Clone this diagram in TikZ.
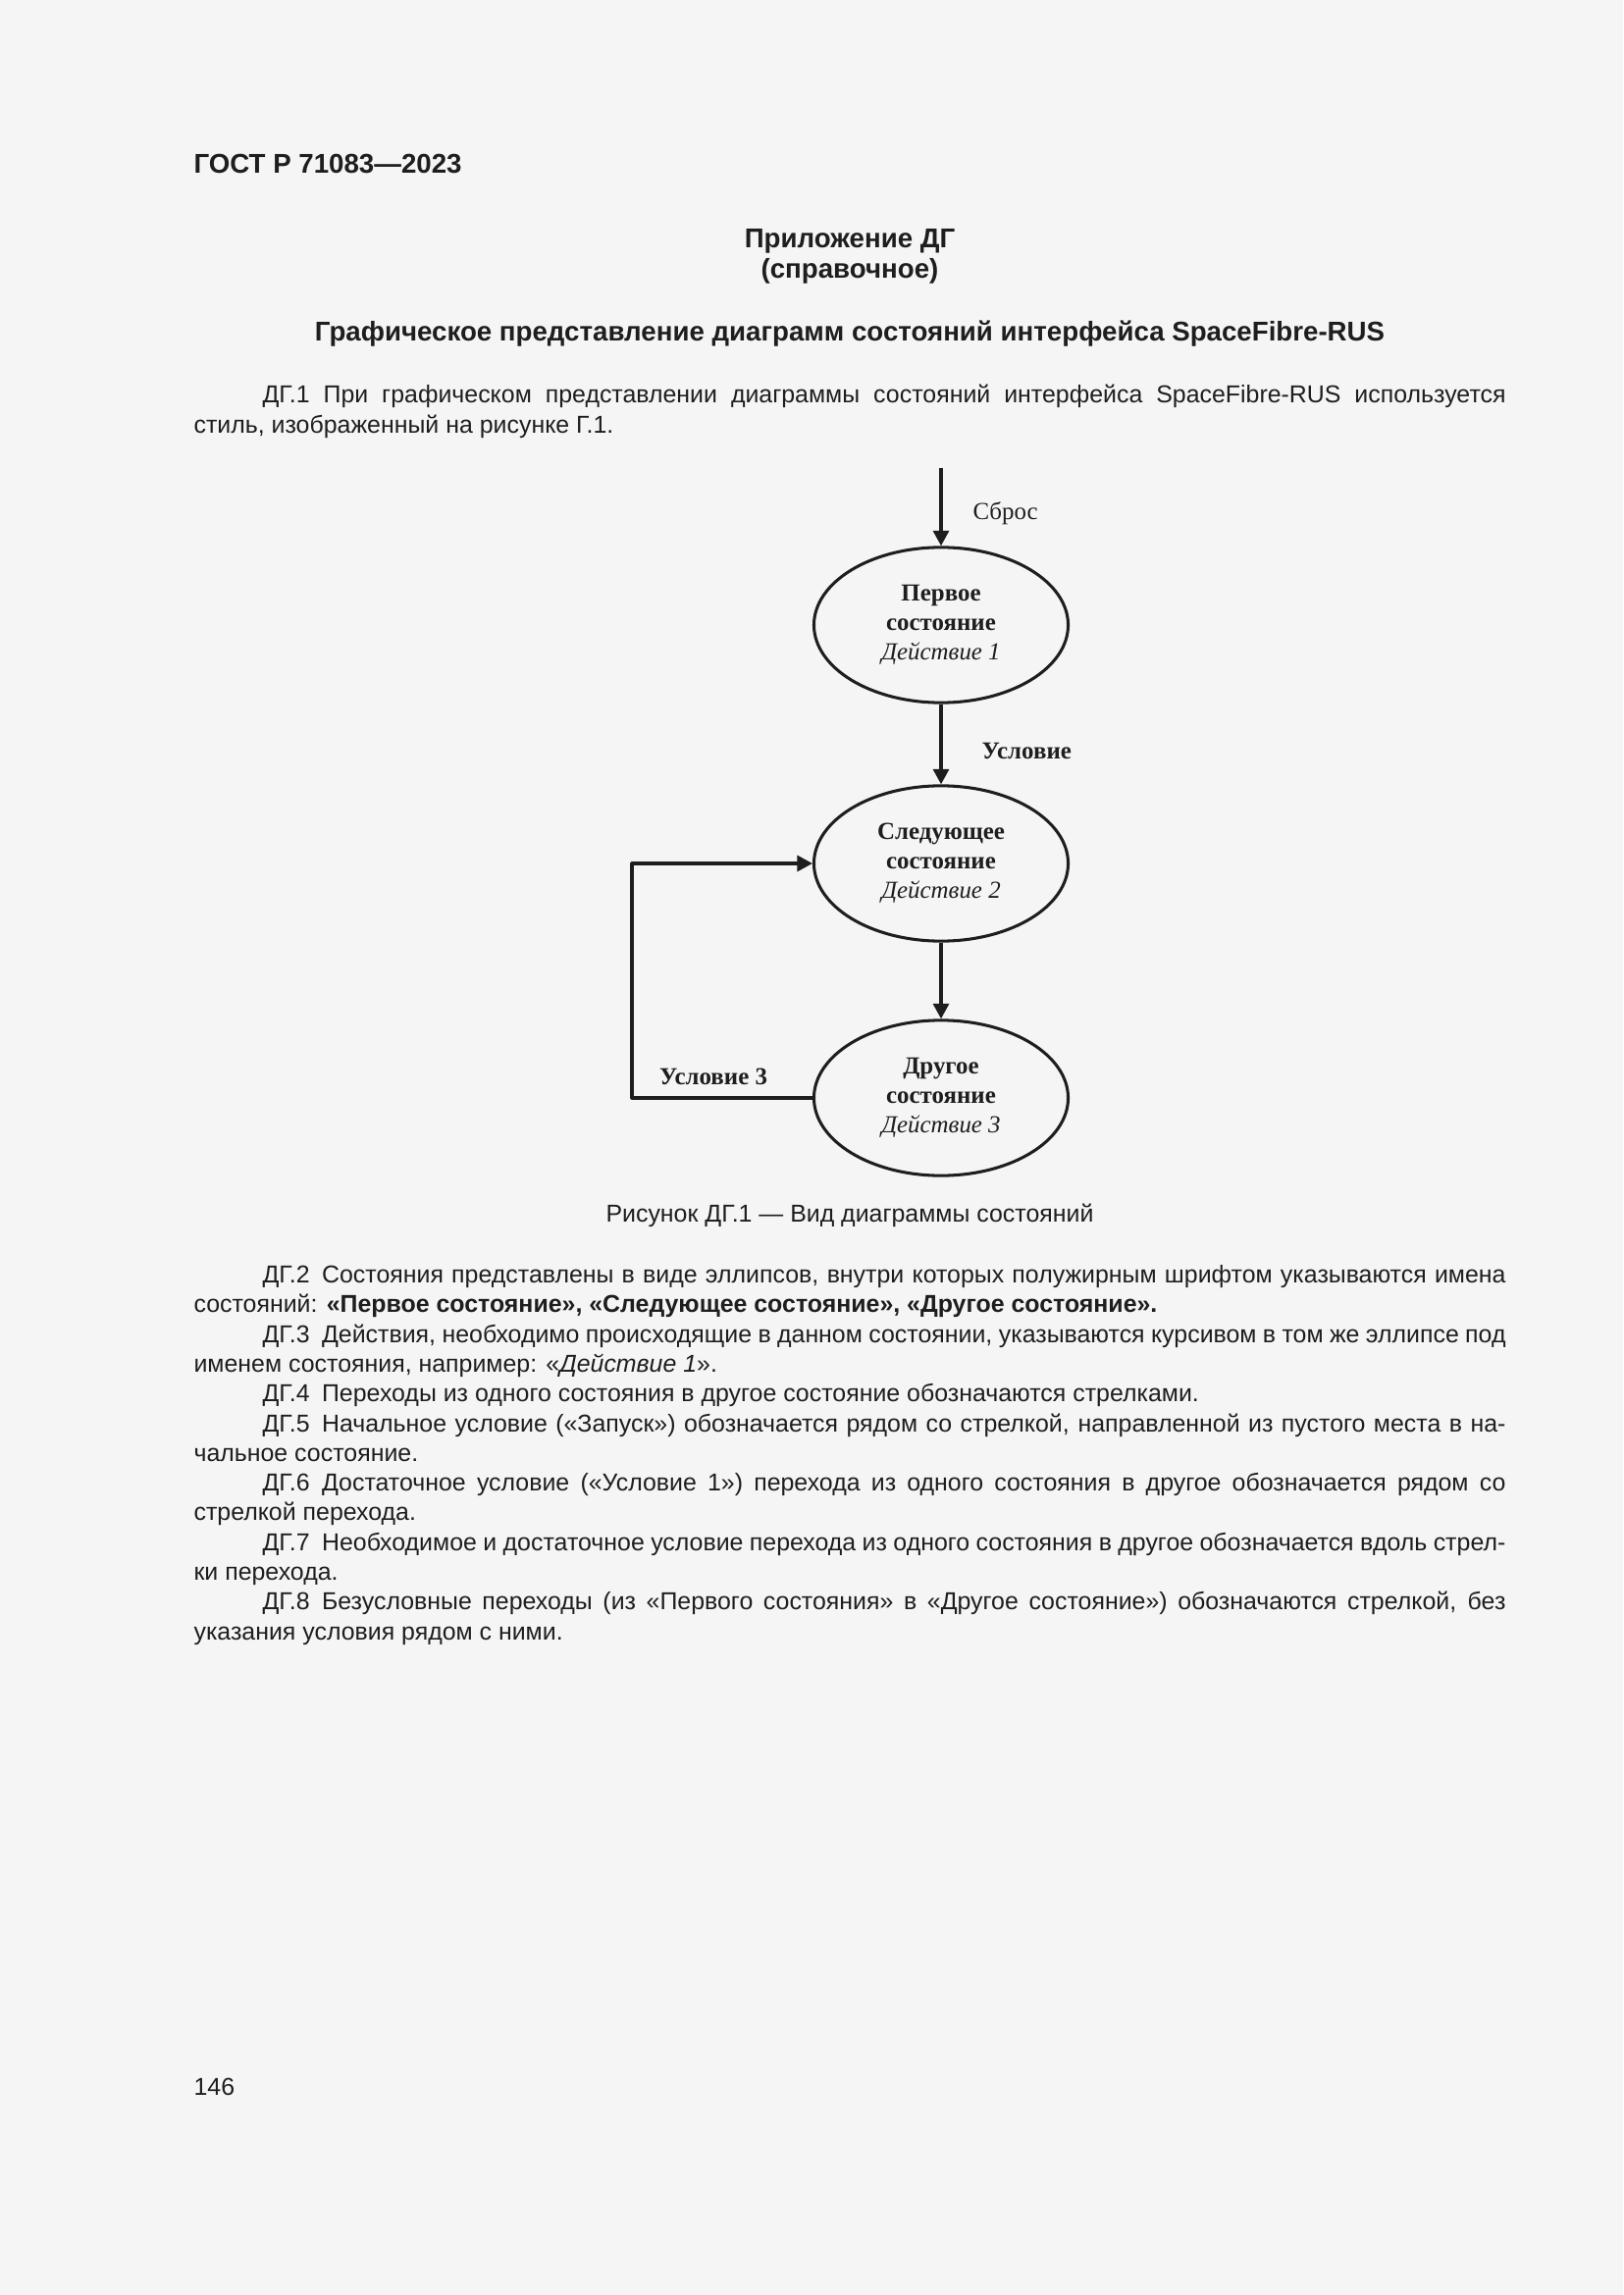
\documentclass[tikz,border=0pt]{standalone}
\usepackage{fontspec}
\setmainfont{Liberation Sans}
\newfontfamily\tnr{Liberation Serif}
\usetikzlibrary{shapes.geometric,arrows.meta}
\definecolor{pagebg}{HTML}{F5F5F5}
\definecolor{ink}{HTML}{1E1E1E}
\newlength{\fullw}\setlength{\fullw}{169.8mm}
\newlength{\indw}\setlength{\indw}{160.9mm}
\newcommand{\fulline}[1]{\makebox[\fullw][s]{#1}}
\newcommand{\indline}[1]{\makebox[\indw][s]{#1}}
\begin{document}
\begin{tikzpicture}[x=0.127mm,y=-0.127mm,>={Triangle[length=5.6pt,width=5.8pt]},line join=round,
	txt/.style={anchor=base west,inner sep=0pt,text=ink,font=\fontsize{9}{11}\selectfont},
	hd/.style={anchor=base,inner sep=0pt,text=ink,font=\fontsize{10}{12}\selectfont\bfseries},
	stateell/.style={ellipse,draw=ink,line width=1.1pt,minimum width=32.9mm,minimum height=20.1mm,inner sep=0pt,align=center,text=ink,font=\tnr\fontsize{9}{10.8}\selectfont},
	cond/.style={inner sep=0pt,text=ink,font=\tnr\fontsize{9}{10.8}\selectfont},
	link/.style={draw=ink,line width=1.1pt}]
	%Страница
	\fill[pagebg] (0,0) rectangle (1654,2339);
	\useasboundingbox (0,0) rectangle (1654,2339);
	\node[hd,anchor=base west] (gost) at (197,177) {ГОСТ Р 71083—2023};
	\node[hd] (pril) at (866,253) {Приложение ДГ};
	\node[hd] (sprav) at (866,284) {(справочное)};
	\node[hd] (title) at (866,348) {Графическое представление диаграмм состояний интерфейса SpaceFibre-RUS};
	\node[txt] (p1a) at (267,411) {\indline{ДГ.1 При графическом представлении диаграммы состояний интерфейса SpaceFibre-RUS используется}};
	\node[txt] (p1b) at (197,442) {стиль, изображенный на рисунке Г.1.};
	%Диаграмма
	\coordinate (start) at (959,477);
	\node[stateell] (s1) at (959,637) {\textbf{Первое}\\\textbf{состояние}\\\textit{Действие 1}};
	\node[stateell] (s2) at (959,880) {\textbf{Следующее}\\\textbf{состояние}\\\textit{Действие 2}};
	\node[stateell] (s3) at (959,1119) {\textbf{Другое}\\\textbf{состояние}\\\textit{Действие 3}};
	\coordinate (loop) at (644,1119);
	\draw[link,->] (start)--(s1.north);
	\draw[link,->] (s1)--(s2);
	\draw[link,->] (s2)--(s3);
	\draw[link,->] (s3.west)--(loop)|-(s2.west);
	\node[cond,anchor=west] (sbros) at (991,523) {Сброс};
	\node[cond,anchor=west] (usl) at (1000,765) {\textbf{Условие}};
	\node[cond] (usl3) at (727,1097) {\textbf{Условие 3}};
	\node[txt,anchor=base] (cap) at (866,1245) {Рисунок ДГ.1 — Вид диаграммы состояний};
	%Текст
	\node[txt] (p2a) at (267,1307) {\indline{ДГ.2\enspace Состояния представлены в виде эллипсов, внутри которых полужирным шрифтом указываются имена}};
	\node[txt] (p2b) at (197,1337) {состояний: \textbf{«Первое состояние», «Следующее состояние», «Другое состояние».}};
	\node[txt] (p3a) at (267,1368) {\indline{ДГ.3\enspace Действия, необходимо происходящие в данном состоянии, указываются курсивом в том же эллипсе под}};
	\node[txt] (p3b) at (197,1398) {именем состояния, например: «\textit{Действие 1}».};
	\node[txt] (p4) at (267,1428) {ДГ.4\enspace Переходы из одного состояния в другое состояние обозначаются стрелками.};
	\node[txt] (p5a) at (267,1459) {\indline{ДГ.5\enspace Начальное условие («Запуск») обозначается рядом со стрелкой, направленной из пустого места в на-}};
	\node[txt] (p5b) at (197,1489) {чальное состояние.};
	\node[txt] (p6a) at (267,1519) {\indline{ДГ.6\enspace Достаточное условие («Условие 1») перехода из одного состояния в другое обозначается рядом со}};
	\node[txt] (p6b) at (197,1549) {стрелкой перехода.};
	\node[txt] (p7a) at (267,1580) {\indline{ДГ.7\enspace Необходимое и достаточное условие перехода из одного состояния в другое обозначается вдоль стрел-}};
	\node[txt] (p7b) at (197,1610) {ки перехода.};
	\node[txt] (p8a) at (267,1640) {\indline{ДГ.8\enspace Безусловные переходы (из «Первого состояния» в «Другое состояние») обозначаются стрелкой, без}};
	\node[txt] (p8b) at (197,1671) {указания условия рядом с ними.};
	\node[txt] (page) at (197,2135) {146};
\end{tikzpicture}
\end{document}
